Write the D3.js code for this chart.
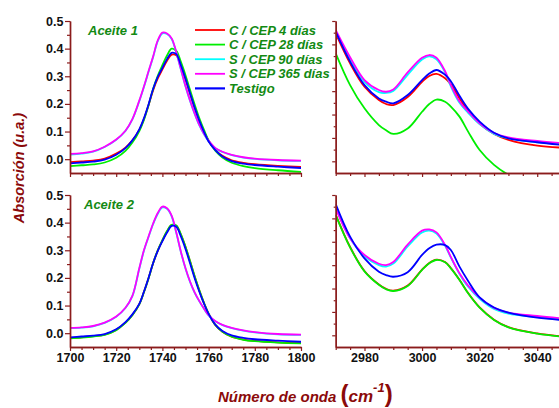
<!DOCTYPE html>
<html>
<head>
<meta charset="utf-8">
<script src="https://cdn.jsdelivr.net/npm/d3@7"></script>
<style>
  body { margin: 0; background: #fff; }
  svg { display: block; }
</style>
</head>
<body>
<div id="chart"></div>
<script>
// series (legend order = drawing order)
var seriesNames = ["C / CEP 4 días", "C / CEP 28 días", "S / CEP 90 días", "S / CEP 365 días", "Testigo"];
var seriesColors = ["#ff0000", "#00ee00", "#00ffff", "#ff00ff", "#0000ff"];
var panelLabels = ["Aceite 1", "Aceite 2"];

// wavenumbers (cm-1)
var waveLow = [1700, 1705, 1710, 1715, 1720, 1724, 1727, 1730, 1732, 1734, 1736, 1738, 1740, 1742, 1744,
               1746, 1748, 1750, 1752, 1754, 1756, 1758, 1760, 1763, 1766, 1770, 1775, 1780, 1790, 1800];
var waveHigh = [2970, 2975, 2980, 2985, 2987.5, 2990, 2995, 3000, 3002.5, 3005, 3008, 3010, 3013, 3016,
                3020, 3025, 3030, 3040, 3050];

// Aceite 1, carbonyl band
var a1LowC4   = [-0.011, -0.008, -0.005, 0.002, 0.020, 0.042, 0.068, 0.106, 0.145, 0.195, 0.250, 0.292, 0.325, 0.356, 0.378,
                 0.376, 0.336, 0.288, 0.236, 0.185, 0.139, 0.100, 0.066, 0.033, 0.012, -0.004, -0.013, -0.018, -0.024, -0.028];
var a1LowC28  = [-0.025, -0.022, -0.019, -0.012, 0.005, 0.030, 0.060, 0.102, 0.142, 0.195, 0.255, 0.302, 0.340, 0.375, 0.400,
                 0.392, 0.352, 0.304, 0.250, 0.197, 0.148, 0.106, 0.068, 0.030, 0.006, -0.013, -0.025, -0.032, -0.040, -0.046];
var a1LowS90  = [0.017, 0.020, 0.027, 0.044, 0.070, 0.102, 0.144, 0.210, 0.261, 0.316, 0.370, 0.427, 0.455, 0.453, 0.435,
                 0.386, 0.324, 0.263, 0.210, 0.163, 0.122, 0.090, 0.065, 0.039, 0.026, 0.015, 0.006, 0.001, -0.004, -0.006];
var a1LowS365 = [0.019, 0.022, 0.028, 0.045, 0.071, 0.103, 0.145, 0.212, 0.263, 0.318, 0.372, 0.430, 0.458, 0.455, 0.437,
                 0.388, 0.326, 0.265, 0.212, 0.165, 0.124, 0.092, 0.067, 0.040, 0.027, 0.016, 0.007, 0.002, -0.003, -0.005];
var a1LowTest = [-0.015, -0.012, -0.009, -0.002, 0.016, 0.040, 0.068, 0.108, 0.148, 0.198, 0.255, 0.298, 0.330, 0.362, 0.385,
                 0.380, 0.340, 0.292, 0.238, 0.186, 0.139, 0.099, 0.064, 0.032, 0.010, -0.007, -0.016, -0.021, -0.027, -0.032];

// Aceite 2, carbonyl band
var a2LowC4   = [-0.018, -0.015, -0.011, -0.005, 0.012, 0.038, 0.066, 0.105, 0.149, 0.199, 0.254, 0.299, 0.336, 0.368, 0.391,
                 0.389, 0.357, 0.312, 0.259, 0.204, 0.154, 0.109, 0.071, 0.029, 0.005, -0.013, -0.023, -0.028, -0.033, -0.036];
var a2LowC28  = [-0.019, -0.016, -0.012, -0.006, 0.011, 0.037, 0.065, 0.104, 0.148, 0.198, 0.254, 0.300, 0.337, 0.370, 0.392,
                 0.390, 0.358, 0.313, 0.260, 0.205, 0.155, 0.110, 0.071, 0.029, 0.005, -0.013, -0.024, -0.029, -0.034, -0.037];
var a2LowS90  = [0.018, 0.020, 0.025, 0.037, 0.059, 0.091, 0.134, 0.233, 0.298, 0.348, 0.395, 0.432, 0.455, 0.450, 0.423,
                 0.363, 0.294, 0.234, 0.185, 0.146, 0.115, 0.088, 0.064, 0.042, 0.029, 0.018, 0.009, 0.003, -0.004, -0.006];
var a2LowS365 = [0.019, 0.021, 0.026, 0.038, 0.060, 0.092, 0.135, 0.235, 0.300, 0.350, 0.397, 0.435, 0.458, 0.452, 0.425,
                 0.365, 0.295, 0.235, 0.186, 0.147, 0.116, 0.089, 0.065, 0.043, 0.030, 0.019, 0.010, 0.004, -0.003, -0.005];
var a2LowTest = [-0.015, -0.012, -0.009, -0.003, 0.014, 0.040, 0.068, 0.106, 0.150, 0.200, 0.254, 0.298, 0.333, 0.364, 0.388,
                 0.385, 0.350, 0.305, 0.252, 0.198, 0.150, 0.107, 0.070, 0.030, 0.008, -0.008, -0.017, -0.022, -0.027, -0.031];

// Aceite 1, 3000 cm-1 region (no scale shown, arbitrary units)
var a1HighC4   = [0.1195, 0.0938, 0.0738, 0.0624, 0.0590, 0.0581, 0.0650, 0.0780, 0.0830, 0.0847, 0.0810, 0.0758, 0.0638, 0.0527,
                  0.0420, 0.0334, 0.0284, 0.0234, 0.0215];
var a1HighC28  = [0.1024, 0.0752, 0.0553, 0.0410, 0.0365, 0.0334, 0.0380, 0.0524, 0.0590, 0.0628, 0.0610, 0.0567, 0.0482, 0.0354,
                  0.0197, 0.0069, -0.0015, -0.0120, -0.0200];
var a1HighS90  = [0.1210, 0.0975, 0.0780, 0.0692, 0.0685, 0.0702, 0.0840, 0.0970, 0.0998, 0.0972, 0.0860, 0.0740, 0.0600, 0.0515,
                  0.0418, 0.0335, 0.0298, 0.0262, 0.0245];
var a1HighS365 = [0.1223, 0.0990, 0.0795, 0.0710, 0.0695, 0.0715, 0.0860, 0.0985, 0.1009, 0.0986, 0.0870, 0.0752, 0.0612, 0.0525,
                  0.0425, 0.0342, 0.0305, 0.0274, 0.0252];
var a1HighTest = [0.1209, 0.0952, 0.0752, 0.0638, 0.0610, 0.0596, 0.0667, 0.0795, 0.0850, 0.0881, 0.0840, 0.0785, 0.0660, 0.0548,
                  0.0440, 0.0345, 0.0297, 0.0263, 0.0236];

// Aceite 2, 3000 cm-1 region
var a2HighC4   = [0.1132, 0.0855, 0.0650, 0.0535, 0.0497, 0.0482, 0.0525, 0.0662, 0.0719, 0.0747, 0.0727, 0.0676, 0.0576, 0.0462,
                  0.0339, 0.0234, 0.0170, 0.0116, 0.0087];
var a2HighC28  = [0.1129, 0.0852, 0.0647, 0.0532, 0.0494, 0.0479, 0.0522, 0.0659, 0.0716, 0.0744, 0.0724, 0.0673, 0.0573, 0.0459,
                  0.0336, 0.0231, 0.0168, 0.0114, 0.0085];
var a2HighS90  = [0.1190, 0.0930, 0.0775, 0.0700, 0.0688, 0.0713, 0.0860, 0.0980, 0.0995, 0.0970, 0.0865, 0.0765, 0.0625, 0.0515,
                  0.0412, 0.0325, 0.0285, 0.0255, 0.0232];
var a2HighS365 = [0.1186, 0.0930, 0.0787, 0.0712, 0.0701, 0.0727, 0.0876, 0.0995, 0.1006, 0.0980, 0.0873, 0.0770, 0.0630, 0.0525,
                  0.0422, 0.0335, 0.0294, 0.0265, 0.0242];
var a2HighTest = [0.1223, 0.0944, 0.0758, 0.0644, 0.0615, 0.0601, 0.0640, 0.0787, 0.0844, 0.0875, 0.0872, 0.0830, 0.0687, 0.0565,
                  0.0425, 0.0338, 0.0294, 0.0251, 0.0228];

// tick values
var lowMajorX = [1700, 1720, 1740, 1760, 1780, 1800];
var highMajorX = [2980, 3000, 3020, 3040];
var lowMajorY = [0.0, 0.1, 0.2, 0.3, 0.4, 0.5];

var width = 559, height = 408;
var axisColor = "#8b1c1c";
var titleColor = "#8b0a0a";
var legendColor = "#138a13";
var font = "'Liberation Sans', Arial, sans-serif";

var svg = d3.select("#chart").append("svg")
    .attr("width", width)
    .attr("height", height);

var rows = [ {top: 21, bottom: 173}, {top: 195, bottom: 347} ];

var panels = [
    {row: 0, side: "low",  label: panelLabels[0], data: [a1LowC4, a1LowC28, a1LowS90, a1LowS365, a1LowTest]},
    {row: 0, side: "high", data: [a1HighC4, a1HighC28, a1HighS90, a1HighS365, a1HighTest]},
    {row: 1, side: "low",  label: panelLabels[1], data: [a2LowC4, a2LowC28, a2LowS90, a2LowS365, a2LowTest]},
    {row: 1, side: "high", data: [a2HighC4, a2HighC28, a2HighS90, a2HighS365, a2HighTest]}
];

function styleAxis(g) {
    g.attr("font-family", font).attr("font-size", 12.5).attr("font-weight", "bold");
    g.select(".domain").attr("stroke", axisColor).attr("stroke-width", 1.4);
    g.selectAll(".tick line").attr("stroke", axisColor).attr("stroke-width", 1.2);
    g.selectAll(".tick text").attr("fill", "#111");
}

panels.forEach(function(p, pi) {
    var r = rows[p.row];
    var isLow = p.side == "low";
    var waves = isLow ? waveLow : waveHigh;

    var x = d3.scaleLinear()
        .domain(isLow ? [1700, 1800] : [2970, 3050])
        .range(isLow ? [70, 301] : [335.7, 566]);
    var y = d3.scaleLinear()
        .domain(isLow ? [-0.05, 0.5] : [0, 0.13])
        .range([r.bottom, r.top]);

    var g = svg.append("g");

    // clip
    var clipId = "clip" + pi;
    svg.append("clipPath").attr("id", clipId)
        .append("rect")
        .attr("x", x.range()[0])
        .attr("y", r.top - 5)
        .attr("width", x.range()[1] - x.range()[0])
        .attr("height", r.bottom - r.top + 5);

    var line = d3.line()
        .x(function(d) { return x(d[0]); })
        .y(function(d) { return y(d[1]); })
        .curve(d3.curveCatmullRom.alpha(0.5));

    var lines = g.append("g").attr("clip-path", "url(#" + clipId + ")");
    p.data.forEach(function(vals, si) {
        var pts = waves.map(function(w, i) { return [w, vals[i]]; });
        lines.append("path")
            .attr("d", line(pts))
            .attr("fill", "none")
            .attr("stroke", seriesColors[si])
            .attr("stroke-width", 1.8)
            .attr("stroke-linejoin", "round");
    });

    // x axis
    var majorX = isLow ? lowMajorX : highMajorX;
    var minorX = d3.range(x.domain()[0], x.domain()[1] + 1, 5).filter(function(v) { return majorX.indexOf(v) < 0; });
    var showLabels = p.row == 1;

    var xMinor = g.append("g")
        .attr("transform", "translate(0," + r.bottom + ")")
        .call(d3.axisBottom(x).tickValues(minorX).tickSize(3).tickSizeOuter(0).tickFormat(""));
    styleAxis(xMinor);
    var xMajor = g.append("g")
        .attr("transform", "translate(0," + r.bottom + ")")
        .call(d3.axisBottom(x).tickValues(majorX).tickSize(4).tickSizeOuter(0).tickPadding(2)
            .tickFormat(showLabels ? d3.format("d") : ""));
    styleAxis(xMajor);

    // y axis
    var y0 = x.range()[0];
    if (isLow) {
        var minorY = [0.05, 0.15, 0.25, 0.35, 0.45];
        var yMinor = g.append("g")
            .attr("transform", "translate(" + y0 + ",0)")
            .call(d3.axisLeft(y).tickValues(minorY).tickSize(3).tickSizeOuter(0).tickFormat(""));
        styleAxis(yMinor);
        var yMajor = g.append("g")
            .attr("transform", "translate(" + y0 + ",0)")
            .call(d3.axisLeft(y).tickValues(lowMajorY).tickSize(5).tickSizeOuter(0).tickPadding(1.5)
                .tickFormat(d3.format(".1f")));
        styleAxis(yMajor);
    } else {
        var tks = d3.range(1, 14).map(function(v) { return v / 100; });
        var yShort = g.append("g")
            .attr("transform", "translate(" + y0 + ",0)")
            .call(d3.axisLeft(y).tickValues(tks.filter(function(v, i) { return i % 2 == 1; }))
                .tickSize(2).tickSizeOuter(0).tickFormat(""));
        styleAxis(yShort);
        var yLong = g.append("g")
            .attr("transform", "translate(" + y0 + ",0)")
            .call(d3.axisLeft(y).tickValues(tks.filter(function(v, i) { return i % 2 == 0; }))
                .tickSize(3.5).tickSizeOuter(0).tickFormat(""));
        styleAxis(yLong);
    }

    if (p.label) {
        g.append("text")
            .attr("x", p.row == 0 ? 88 : 84)
            .attr("y", r.top + 14)
            .attr("font-family", font)
            .attr("font-size", 13)
            .attr("font-weight", "bold")
            .attr("font-style", "italic")
            .attr("fill", legendColor)
            .text(p.label);
    }
});

// legend
var legend = svg.append("g").attr("transform", "translate(195,30)");
seriesNames.forEach(function(name, i) {
    var row = legend.append("g").attr("transform", "translate(0," + (i * 14.6) + ")");
    row.append("line")
        .attr("x1", 0).attr("x2", 30)
        .attr("stroke", seriesColors[i])
        .attr("stroke-width", i == 4 ? 2.2 : 1.8);
    row.append("text")
        .attr("x", 34)
        .attr("dy", "0.35em")
        .attr("font-family", font)
        .attr("font-size", 13)
        .attr("font-weight", "bold")
        .attr("font-style", "italic")
        .attr("fill", legendColor)
        .text(name);
});

// axis titles
svg.append("text")
    .attr("transform", "translate(24,168) rotate(-90)")
    .attr("text-anchor", "middle")
    .attr("font-family", font)
    .attr("font-size", 14.5)
    .attr("font-weight", "bold")
    .attr("font-style", "italic")
    .attr("fill", titleColor)
    .text("Absorción (u.a.)");

var xt = svg.append("text")
    .attr("x", 218)
    .attr("y", 402)
    .attr("font-family", font)
    .attr("font-weight", "bold")
    .attr("font-style", "italic")
    .attr("fill", titleColor);
xt.append("tspan").attr("font-size", 15).text("Número de onda ");
xt.append("tspan").attr("font-size", 24).attr("font-style", "normal").text("(");
xt.append("tspan").attr("font-size", 17).text("cm");
xt.append("tspan").attr("font-size", 13).attr("dy", -10).text("-1");
xt.append("tspan").attr("font-size", 24).attr("font-style", "normal").attr("dy", 10).text(")");
</script>
</body>
</html>
